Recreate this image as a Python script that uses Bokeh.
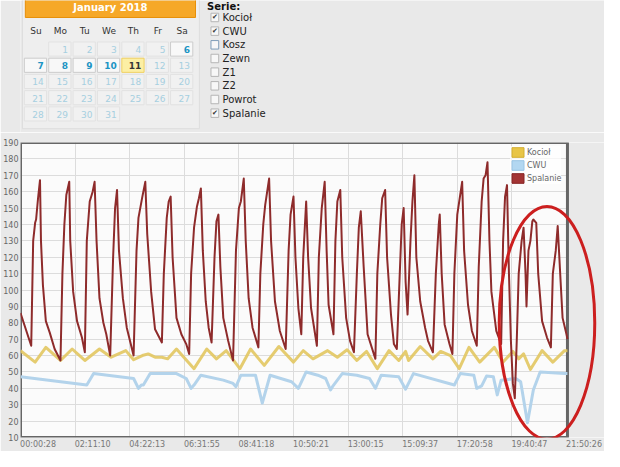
import numpy as np
from bokeh.plotting import figure
from bokeh.layouts import column
from bokeh.models import (Range1d, FixedTicker, ColumnDataSource, Legend, LegendItem)
from bokeh.core.properties import value
from bokeh.embed import file_html
from bokeh.resources import INLINE

# ---------------- data ----------------
month_title = "January 2018"
weekdays = ["Su", "Mo", "Tu", "We", "Th", "Fr", "Sa"]
n_days = 31
first_weekday = 1          # 1 January 2018 is a Monday
enabled_days = [6, 7, 8, 9, 10]
today = 11

series_title = "Serie:"
series_boxes = ["Kocioł", "CWU", "Kosz", "Zewn", "Z1", "Z2", "Powrot", "Spalanie"]
series_checked = [True, True, False, False, False, False, False, True]
series_focused = [False, False, True, False, False, False, False, False]

x_ticks = [0, 56, 112, 168, 224, 280, 336, 392, 448, 504, 560]
x_tick_labels = ["00:00:28", "02:11:10", "04:22:13", "06:31:55", "08:41:18",
                 "10:50:21", "13:00:15", "15:09:37", "17:20:58", "19:40:47", "21:50:26"]
y_ticks = list(range(10, 200, 10))
x_last = 561               # last sample index shown

spal_x = [0, 11, 13, 15, 16, 18, 20, 21, 23, 26, 30, 35, 41, 43, 45, 47, 50, 51, 54, 58,
          63, 66, 68, 71, 74, 76, 78, 81, 85, 88, 92, 95, 97, 99, 101, 105, 109, 116, 119,
          121, 125, 128, 130, 134, 138, 145, 147, 150, 152, 154, 156, 160, 165, 170, 173,
          175, 178, 181, 183, 185, 187, 190, 193, 196, 199, 201, 203, 205, 208, 213, 218,
          221, 224, 226, 229, 231, 234, 238, 244, 246, 249, 251, 255, 257, 261, 266, 272,
          275, 277, 280, 282, 285, 288, 290, 293, 295, 298, 304, 306, 309, 312, 314, 316,
          321, 323, 325, 328, 330, 334, 338, 342, 345, 347, 349, 352, 356, 364, 366, 369,
          371, 374, 376, 380, 383, 386, 389, 391, 393, 395, 397, 400, 402, 404, 406, 410,
          415, 418, 423, 426, 429, 430, 432, 435, 440, 443, 445, 448, 451, 453, 455, 459,
          463, 468, 470, 473, 475, 477, 479, 481, 483, 488, 493, 495, 497, 499, 501, 503,
          505, 507, 509, 511, 514, 516, 518, 519, 521, 523, 525, 526, 529, 531, 535, 540,
          544, 546, 549, 551, 554, 556, 560, 561]
spal_y = [86, 66, 130, 141, 143, 156, 167, 130, 103, 81, 74, 64, 57, 110, 140, 158, 166, 130, 99, 81,
          71, 62, 130, 154, 160, 166, 130, 95, 80, 73, 60, 120, 150, 161, 124, 95, 77, 60, 124,
          144, 157, 166, 134, 99, 76, 68, 110, 144, 154, 157, 120, 83, 73, 67, 61,
          110, 138, 151, 156, 162, 124, 93, 77, 68, 120, 142, 146, 114, 83, 69, 57,
          124, 150, 154, 168, 130, 95, 77, 65, 110, 140, 152, 168, 130, 93, 75, 64,
          124, 146, 157, 120, 89, 73, 120, 154, 120, 89, 66, 120, 150, 166, 124, 91,
          73, 130, 154, 161, 120, 83, 69, 62, 110, 138, 148, 114, 73, 58, 110, 140,
          156, 161, 120, 85, 67, 64, 110, 140, 150, 105, 85, 130, 154, 170, 120, 93,
          77, 69, 62, 110, 140, 146, 110, 79, 67, 61, 110, 146, 158, 166, 124, 91,
          75, 66, 114, 154, 168, 170, 178, 130, 99, 75, 67, 130, 157, 164, 110, 69,
          43, 34, 69, 110, 130, 138, 110, 90, 124, 130, 142, 143, 141, 110, 81, 71,
          65, 110, 124, 139, 105, 83, 73, 70]

kociol_x = [0, 15, 26, 41, 53, 66, 81, 93, 108, 116, 125, 131, 138, 145, 151, 160, 178, 191,
            201, 211, 225, 236, 250, 265, 280, 290, 300, 315, 325, 335, 345, 355, 366, 378,
            388, 395, 398, 410, 423, 431, 441, 450, 460, 471, 486, 495, 505, 511, 516, 523,
            535, 546, 558, 561]
kociol_y = [63, 56, 65, 57, 64, 57, 64, 59, 63, 57.5, 60, 61, 59, 59, 58, 64, 52, 64,
            58, 63, 52, 64, 54, 65.5, 56, 63, 58, 63, 59, 63.5, 57, 62.5, 52, 63,
            57, 62.5, 57, 65.5, 58, 62.5, 60, 52, 65, 56, 65, 56, 62.5, 58, 61, 51.5,
            63, 56, 63, 63]

cwu_x = [0, 68, 75, 116, 121, 124, 126, 133, 160, 170, 175, 178, 185, 208, 218, 221, 226,
         241, 248, 256, 278, 285, 293, 305, 313, 318, 320, 330, 345, 358, 364, 370, 388,
         395, 403, 445, 451, 465, 468, 473, 478, 485, 489, 493, 508, 513, 520, 526, 533,
         558, 561]
cwu_y = [47, 42, 49, 46, 40, 42, 42, 49, 49, 46, 40, 42, 48, 45, 43, 41, 48,
         48, 31, 48, 44, 40, 50, 48, 46, 39, 41, 49, 48, 46, 40, 48, 47,
         39.5, 49, 42, 49, 48, 40, 41.5, 47.5, 47, 36, 45, 46, 44, 19, 39, 50,
         49, 49]

series_names = ["Kocioł", "CWU", "Spalanie"]

# marked region (red ellipse drawn by hand on the screenshot), in data units
ell_cx, ell_cy, ell_w, ell_h = 540, 80, 98, 142

# ---------------- styles ----------------
PAGE = "#e9e9e9"
FONT = value("DejaVu Sans")
W = 604

# ---------------- top: calendar + series checkboxes ----------------
top = figure(width=W, height=132, x_range=Range1d(3, 607), y_range=Range1d(140, 0),
             output_backend="svg", toolbar_location=None, min_border=0)
top.axis.visible = False
top.grid.visible = False
top.outline_line_color = None
top.background_fill_color = PAGE
top.border_fill_color = PAGE

top.quad(left=[5], right=[188], top=[-5], bottom=[136], fill_color="#eeeeee",
         line_color="#dddddd", line_width=1)
top.quad(left=[8], right=[184], top=[-5], bottom=[18], fill_color="#f6a828",
         line_color="#e78f08", line_width=1)
top.text(x=[96], y=[1.5], text=[month_title], text_align="center", text_baseline="top",
         text_font=FONT, text_font_size="10px", text_font_style="bold", text_color="white")

col_w, row_h = 25.2, 17.2
top.text(x=[19 + col_w * i for i in range(7)], y=[32] * 7, text=weekdays,
         text_align="center", text_baseline="middle", text_font=FONT,
         text_font_size="9px", text_color="#333333")

days = list(range(1, n_days + 1))
cell_i = [(first_weekday + d - 1) for d in days]
cols = [c % 7 for c in cell_i]
rows = [c // 7 for c in cell_i]
fills, borders, tcols, tstyle = [], [], [], []
for d in days:
    if d == today:
        fills.append("#fcefa4"); borders.append("#f0d060"); tcols.append("#363636"); tstyle.append("bold")
    elif d in enabled_days:
        fills.append("#f8f8f8"); borders.append("#cccccc"); tcols.append("#1c94c4"); tstyle.append("bold")
    else:
        fills.append("#f1f1f1"); borders.append("#e2e2e2"); tcols.append("#a6cfe0"); tstyle.append("normal")
cal = ColumnDataSource(dict(
    left=[7 + col_w * c for c in cols], right=[30 + col_w * c for c in cols],
    top=[44 + row_h * r for r in rows], bottom=[59 + row_h * r for r in rows],
    tx=[27 + col_w * c for c in cols], ty=[52 + row_h * r for r in rows],
    label=[str(d) for d in days], fill=fills, border=borders, tc=tcols, ts=tstyle))
top.quad(left="left", right="right", top="top", bottom="bottom", fill_color="fill",
         line_color="border", source=cal)
top.text(x="tx", y="ty", text="label", text_color="tc", text_font_style="ts",
         text_align="right", text_baseline="middle", text_font=FONT,
         text_font_size="9px", source=cal)

top.text(x=[196], y=[0.5], text=[series_title], text_baseline="top", text_font=FONT,
         text_font_size="10px", text_font_style="bold", text_color="#111111")
row_y = [18 + 14.5 * i for i in range(len(series_boxes))]
top.quad(left=[200] * len(row_y), right=[208] * len(row_y),
         top=[y - 4.5 for y in row_y], bottom=[y + 4.5 for y in row_y],
         fill_color="#f7f7f7",
         line_color=["#7f9db9" if f else "#b5b5b5" for f in series_focused])
top.text(x=[204] * sum(series_checked),
         y=[y for y, c in zip(row_y, series_checked) if c],
         text=["✔"] * sum(series_checked), text_align="center", text_baseline="middle",
         text_font=FONT, text_font_size="7px", text_color="#333333")
top.text(x=[212] * len(row_y), y=row_y, text=series_boxes, text_baseline="middle",
         text_font=FONT, text_font_size="10px", text_color="#222222")

# ---------------- chart ----------------
X_END = 599      # frame extends right of the plot box to leave room for the last label
LABEL_SHIFT = 18 # left-aligned time labels: tick placed half a label to the right
p = figure(width=W, height=319, x_range=Range1d(0, X_END), y_range=Range1d(10, 190),
           output_backend="svg", toolbar_location=None,
           min_border_top=10, min_border_bottom=0, min_border_left=18, min_border_right=0)
p.background_fill_color = "#fbfbfb"
p.border_fill_color = PAGE
p.outline_line_color = None

p.xgrid.ticker = FixedTicker(ticks=x_ticks)
p.ygrid.ticker = FixedTicker(ticks=y_ticks)
p.grid.grid_line_color = "#dcdcdc"
p.grid.grid_line_width = 1

for ax in (p.xaxis[0], p.yaxis[0]):
    ax.axis_line_color = None
    ax.major_tick_line_color = None
    ax.minor_tick_line_color = None
    ax.major_tick_out = 0
    ax.major_tick_in = 0
    ax.major_label_standoff = 2
    ax.major_label_text_font = "DejaVu Sans"
    ax.major_label_text_font_size = "8px"
ya = p.yaxis[0]
ya.ticker = FixedTicker(ticks=y_ticks)
ya.major_label_text_color = "#666666"
xa = p.xaxis[0]
xa.ticker = FixedTicker(ticks=[t + LABEL_SHIFT for t in x_ticks])
xa.major_label_overrides = {t + LABEL_SHIFT: lab for t, lab in zip(x_ticks, x_tick_labels)}
xa.major_label_text_color = "#777777"

# page-coloured area right of the plot box, and the box border
p.quad(left=[x_last], right=[X_END], bottom=[10], top=[190], fill_color=PAGE, line_color=None)
p.quad(left=[0], right=[x_last], bottom=[10], top=[190], fill_color=None,
       line_color="#666666", line_width=3)

p.line(cwu_x, cwu_y, line_color="#b3d3eb", line_width=3, line_join="round")
p.line(kociol_x, kociol_y, line_color="#e2c760", line_width=3, line_alpha=0.9, line_join="round")
p.line(spal_x, spal_y, line_color="#8e2b2b", line_width=2, line_join="round")

legend_fill = ["#e8c547", "#b2d7f1", "#a33434"]
legend_line = ["#d2ad30", "#98c4e4", "#862424"]
items = []
for name, fc, lc in zip(series_names, legend_fill, legend_line):
    r = p.rect(x=[np.nan], y=[np.nan], width=1, height=1, fill_color=fc, line_color=lc)
    items.append(LegendItem(label=name, renderers=[r]))
leg = Legend(items=items, location=(490, 253), margin=0, padding=2, spacing=1,
             glyph_width=15, glyph_height=12, label_height=12, label_standoff=2,
             label_text_font="DejaVu Sans", label_text_font_size="8px",
             label_text_color="#666666", border_line_color=None,
             background_fill_color="#ffffff", background_fill_alpha=0.7)
p.add_layout(leg)

p.ellipse(x=[ell_cx], y=[ell_cy], width=[ell_w], height=[ell_h], fill_color=None,
          line_color="#cc1f1f", line_width=3)

layout = column(top, p, spacing=0)
open("out.html", "w").write(file_html(layout, INLINE))
